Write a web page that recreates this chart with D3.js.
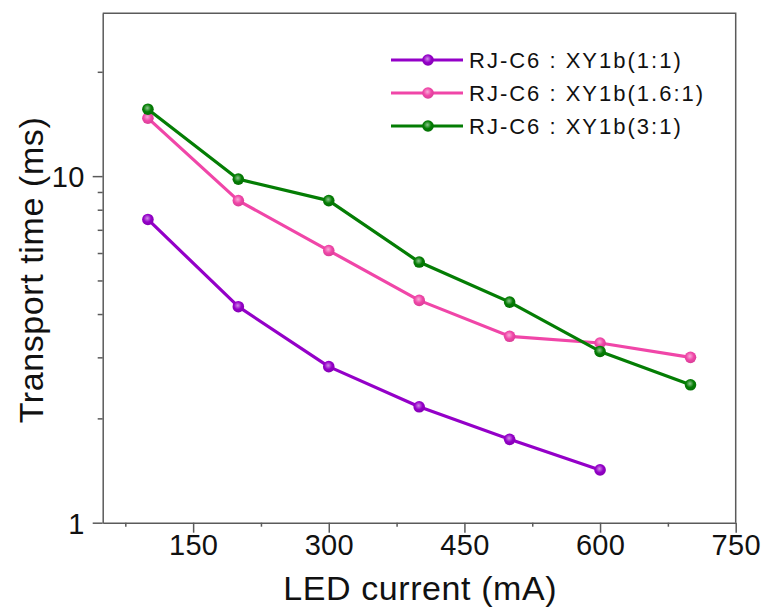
<!DOCTYPE html>
<html>
<head>
<meta charset="utf-8">
<script src="https://cdn.jsdelivr.net/npm/d3@7"></script>
<style>
  html, body { margin: 0; padding: 0; background: #fff; }
  svg { display: block; font-family: Arial, "Liberation Sans", sans-serif; }
</style>
</head>
<body>
<svg id="chart" width="766" height="614"></svg>
<script>
// LED current (mA)
const currents = [100, 200, 300, 400, 500, 600, 700];
// Transport time (ms) for each RJ-C6 : XY1b ratio
const ratio11 = [7.5, 4.2, 2.82, 2.16, 1.74, 1.42];
const ratio161 = [14.7, 8.5, 6.1, 4.38, 3.45, 3.3, 3.0];
const ratio31 = [15.6, 9.8, 8.5, 5.65, 4.33, 3.12, 2.5];
const seriesNames = ["RJ-C6 : XY1b(1:1)", "RJ-C6 : XY1b(1.6:1)", "RJ-C6 : XY1b(3:1)"];
const seriesColors = ["#9400c8", "#f046a8", "#047d04"];
const xTickValues = [150, 300, 450, 600, 750];
const xMinorTicks = [75, 225, 375, 525, 675];
const yTickValues = [1, 10];
const yMinorTicks = [2, 3, 4, 5, 6, 7, 8, 9, 20];

const series = [ratio11, ratio161, ratio31].map((vals, i) => ({
  name: seriesNames[i],
  color: seriesColors[i],
  points: vals.map((v, j) => ({ x: currents[j], y: v }))
}));

const svg = d3.select("#chart");
const plotL = 102.7, plotR = 735.7, plotT = 13.3, plotB = 522.7;

const x = d3.scaleLinear().domain([50, 750]).range([plotL, plotR]);
const y = d3.scaleLog().domain([1, 29.5]).range([plotB, plotT]);

// radial gradients for the glossy markers
const defs = svg.append("defs");
series.forEach((s, i) => {
  const g = defs.append("radialGradient")
    .attr("id", "mk" + i).attr("cx", "45%").attr("cy", "40%").attr("r", "60%");
  g.append("stop").attr("offset", "0%").attr("stop-color", d3.interpolateRgb(s.color, "#fff")(0.55));
  g.append("stop").attr("offset", "55%").attr("stop-color", s.color);
  g.append("stop").attr("offset", "100%").attr("stop-color", d3.color(s.color).darker(0.3));
});

const axisColor = "#5a5a5a";
const textColor = "#111";

// frame: top and right borders
svg.append("path")
  .attr("d", `M${plotL},${plotT}H${plotR}V${plotB}`)
  .attr("fill", "none").attr("stroke", axisColor).attr("stroke-width", 1.5);

// x axis
const xAxis = svg.append("g").attr("transform", `translate(0,${plotB})`)
  .call(d3.axisBottom(x).tickValues(xTickValues).tickSize(10).tickSizeOuter(0).tickPadding(2));
svg.append("g").attr("transform", `translate(0,${plotB})`)
  .call(d3.axisBottom(x).tickValues(xMinorTicks).tickSize(4).tickSizeOuter(0).tickFormat(""))
  .select(".domain").remove();

// y axis
const yAxis = svg.append("g").attr("transform", `translate(${plotL},0)`)
  .call(d3.axisLeft(y).tickValues(yTickValues).tickSize(10).tickSizeOuter(0).tickPadding(8)
    .tickFormat(d3.format("d")));
svg.append("g").attr("transform", `translate(${plotL},0)`)
  .call(d3.axisLeft(y).tickValues(yMinorTicks).tickSize(5).tickSizeOuter(0).tickFormat(""))
  .select(".domain").remove();

svg.selectAll(".domain, .tick line").attr("stroke", axisColor).attr("stroke-width", 1.5);
xAxis.selectAll(".tick text").attr("font-size", 29).attr("fill", textColor)
  .attr("letter-spacing", "0.3px")
  .attr("font-family", "Arial, 'Liberation Sans', sans-serif");
yAxis.selectAll(".tick text").attr("font-size", 29).attr("fill", textColor)
  .attr("letter-spacing", "0.3px")
  .attr("font-family", "Arial, 'Liberation Sans', sans-serif").attr("dy", "0.36em");

// axis titles
svg.append("text")
  .attr("x", (plotL + plotR) / 2 + 1).attr("y", 600)
  .attr("text-anchor", "middle").attr("font-size", 34).attr("letter-spacing", "0.6px")
  .attr("fill", textColor)
  .text("LED current (mA)");
svg.append("text")
  .attr("transform", `translate(43,${(plotT + plotB) / 2 + 2}) rotate(-90)`)
  .attr("text-anchor", "middle").attr("font-size", 34).attr("letter-spacing", "0.6px")
  .attr("fill", textColor)
  .text("Transport time (ms)");

// lines and markers
const line = d3.line().x(d => x(d.x)).y(d => y(d.y));
series.forEach((s, i) => {
  svg.append("path").datum(s.points)
    .attr("d", line).attr("fill", "none")
    .attr("stroke", s.color).attr("stroke-width", 3.2).attr("stroke-linejoin", "round");
  svg.selectAll(null).data(s.points).enter().append("circle")
    .attr("cx", d => x(d.x)).attr("cy", d => y(d.y)).attr("r", 5.8)
    .attr("fill", `url(#mk${i})`);
});

// legend
const legend = svg.append("g");
series.forEach((s, i) => {
  const ly = 60 + i * 33;
  legend.append("line").attr("x1", 391).attr("x2", 463).attr("y1", ly).attr("y2", ly)
    .attr("stroke", s.color).attr("stroke-width", 3.2);
  legend.append("circle").attr("cx", 428).attr("cy", ly).attr("r", 5.8).attr("fill", `url(#mk${i})`);
  legend.append("text").attr("x", 469).attr("y", ly).attr("dy", "0.36em")
    .attr("font-size", 22).attr("letter-spacing", "2px")
    .attr("fill", textColor).text(s.name);
});
</script>
</body>
</html>
